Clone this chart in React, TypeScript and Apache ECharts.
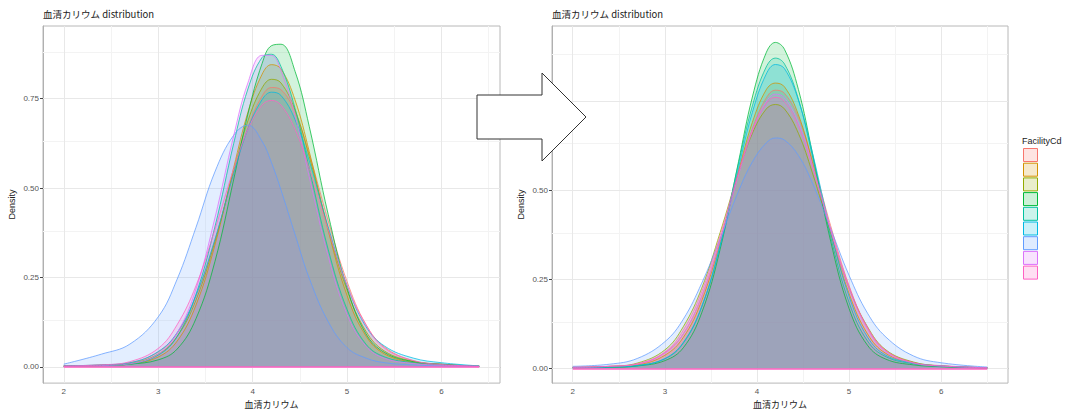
import React, { useEffect, useRef } from "react";
import * as echarts from "echarts";

// Facility groups (legend keys) and ggplot hue colours
const FACILITIES = ["F1", "F2", "F3", "F4", "F5", "F6", "F7", "F8", "F9"];
const COLORS = ["#F8766D", "#D39200", "#93AA00", "#00BA38", "#00C19F", "#00B9E3", "#619CFF", "#DB72FB", "#FF61C3"];

// x positions (血清カリウム) where densities were read
const X_LEFT = [2.0, 2.4, 2.7, 3.0, 3.2, 3.4, 3.6, 3.8, 3.95, 4.1, 4.2, 4.3, 4.45, 4.6, 4.8, 5.0, 5.2, 5.4, 5.7, 6.0, 6.4];
const X_RIGHT = [2.0, 2.4, 2.7, 3.0, 3.2, 3.4, 3.6, 3.8, 3.95, 4.1, 4.2, 4.3, 4.45, 4.6, 4.8, 5.0, 5.2, 5.4, 5.7, 6.0, 6.5];

// Left panel densities
const LEFT_D1 = [0.003, 0.006, 0.012, 0.042, 0.094, 0.197, 0.354, 0.541, 0.669, 0.757, 0.781, 0.775, 0.711, 0.595, 0.409, 0.239, 0.119, 0.055, 0.018, 0.008, 0.002];
const LEFT_D2 = [0.002, 0.004, 0.008, 0.028, 0.072, 0.173, 0.340, 0.558, 0.712, 0.818, 0.845, 0.833, 0.746, 0.602, 0.382, 0.200, 0.087, 0.036, 0.013, 0.006, 0.002];
const LEFT_D3 = [0.003, 0.005, 0.010, 0.036, 0.085, 0.187, 0.350, 0.549, 0.688, 0.780, 0.804, 0.794, 0.718, 0.588, 0.387, 0.215, 0.100, 0.044, 0.016, 0.007, 0.002];
const LEFT_D4 = [0.002, 0.004, 0.008, 0.020, 0.050, 0.135, 0.294, 0.525, 0.707, 0.848, 0.898, 0.902, 0.826, 0.672, 0.427, 0.221, 0.093, 0.040, 0.015, 0.008, 0.002];
const LEFT_D5 = [0.002, 0.004, 0.008, 0.033, 0.085, 0.203, 0.391, 0.625, 0.777, 0.865, 0.874, 0.840, 0.722, 0.555, 0.329, 0.161, 0.064, 0.028, 0.012, 0.006, 0.002];
const LEFT_D6 = [0.003, 0.006, 0.012, 0.043, 0.096, 0.200, 0.356, 0.541, 0.665, 0.747, 0.768, 0.759, 0.691, 0.576, 0.392, 0.228, 0.113, 0.058, 0.025, 0.012, 0.003];
const LEFT_D7 = [0.008, 0.036, 0.064, 0.140, 0.245, 0.390, 0.545, 0.648, 0.676, 0.631, 0.571, 0.495, 0.370, 0.248, 0.127, 0.054, 0.025, 0.012, 0.006, 0.003, 0.001];
const LEFT_D8 = [0.002, 0.004, 0.009, 0.036, 0.095, 0.218, 0.416, 0.647, 0.794, 0.871, 0.871, 0.829, 0.702, 0.531, 0.310, 0.147, 0.058, 0.024, 0.010, 0.005, 0.002];
const LEFT_D9 = [0.003, 0.006, 0.015, 0.052, 0.118, 0.227, 0.384, 0.554, 0.664, 0.732, 0.745, 0.732, 0.664, 0.554, 0.384, 0.227, 0.118, 0.052, 0.018, 0.007, 0.002];

// Right panel densities
const RIGHT_D1 = [0.003, 0.006, 0.012, 0.044, 0.097, 0.202, 0.360, 0.547, 0.672, 0.758, 0.780, 0.771, 0.703, 0.586, 0.400, 0.232, 0.114, 0.050, 0.017, 0.008, 0.002];
const RIGHT_D2 = [0.003, 0.005, 0.010, 0.037, 0.087, 0.190, 0.355, 0.553, 0.690, 0.781, 0.800, 0.789, 0.711, 0.580, 0.380, 0.210, 0.097, 0.042, 0.015, 0.007, 0.002];
const RIGHT_D3 = [0.003, 0.006, 0.015, 0.052, 0.117, 0.225, 0.381, 0.550, 0.659, 0.727, 0.740, 0.727, 0.659, 0.550, 0.381, 0.225, 0.117, 0.052, 0.018, 0.007, 0.002];
const RIGHT_D4 = [0.002, 0.003, 0.007, 0.022, 0.058, 0.156, 0.334, 0.580, 0.761, 0.885, 0.914, 0.894, 0.782, 0.606, 0.357, 0.168, 0.065, 0.026, 0.010, 0.005, 0.001];
const RIGHT_D5 = [0.002, 0.004, 0.008, 0.027, 0.071, 0.172, 0.345, 0.575, 0.736, 0.845, 0.870, 0.853, 0.755, 0.598, 0.369, 0.185, 0.077, 0.033, 0.013, 0.006, 0.002];
const RIGHT_D6 = [0.002, 0.004, 0.008, 0.028, 0.073, 0.174, 0.343, 0.563, 0.718, 0.825, 0.852, 0.840, 0.752, 0.607, 0.385, 0.202, 0.088, 0.037, 0.015, 0.007, 0.002];
const RIGHT_D7 = [0.006, 0.012, 0.028, 0.075, 0.138, 0.239, 0.364, 0.497, 0.579, 0.632, 0.646, 0.640, 0.597, 0.521, 0.392, 0.261, 0.155, 0.088, 0.035, 0.016, 0.004];
const RIGHT_D8 = [0.003, 0.006, 0.012, 0.043, 0.097, 0.202, 0.358, 0.543, 0.666, 0.747, 0.769, 0.758, 0.689, 0.572, 0.388, 0.224, 0.110, 0.046, 0.015, 0.007, 0.002];
const RIGHT_D9 = [0.003, 0.006, 0.013, 0.046, 0.107, 0.215, 0.372, 0.550, 0.667, 0.743, 0.760, 0.748, 0.680, 0.567, 0.389, 0.229, 0.115, 0.050, 0.016, 0.007, 0.002];

const LEFT_SET = [LEFT_D1, LEFT_D2, LEFT_D3, LEFT_D4, LEFT_D5, LEFT_D6, LEFT_D7, LEFT_D8, LEFT_D9];
const RIGHT_SET = [RIGHT_D1, RIGHT_D2, RIGHT_D3, RIGHT_D4, RIGHT_D5, RIGHT_D6, RIGHT_D7, RIGHT_D8, RIGHT_D9];

// Axis ticks and grid lines
const X_TICKS = [2, 3, 4, 5, 6];
const X_MINOR = [2.5, 3.5, 4.5, 5.5, 6.5];
const Y_TICKS = [0, 0.25, 0.5, 0.75];
const Y_MINOR = [0.125, 0.375, 0.625, 0.875];

const TITLE = "血清カリウム distribution";
const X_NAME = "血清カリウム";
const Y_NAME = "Density";
const LEGEND_TITLE = "FacilityCd";

const FONT = "'Liberation Sans', 'Noto Sans CJK JP', sans-serif";
const CJK = "'Noto Sans CJK JP', 'Liberation Sans', sans-serif";

function rgba(hex: string, a: number) {
  const r = parseInt(hex.slice(1, 3), 16);
  const g = parseInt(hex.slice(3, 5), 16);
  const b = parseInt(hex.slice(5, 7), 16);
  return `rgba(${r},${g},${b},${a})`;
}

const ALPHA = 0.25;

function panelSeries(xs: number[], set: number[][], idx: number) {
  const out: any[] = [];
  out.push({
    type: "line",
    name: "grid" + idx,
    xAxisIndex: idx,
    yAxisIndex: idx,
    data: [],
    silent: true,
    z: 1,
    markLine: {
      silent: true,
      symbol: ["none", "none"],
      z: 1,
      label: { show: false },
      data: [
        ...X_MINOR.map((v) => ({ xAxis: v, lineStyle: { color: "#f3f3f3", width: 1, type: "solid" } })),
        ...Y_MINOR.map((v) => ({ yAxis: v, lineStyle: { color: "#f3f3f3", width: 1, type: "solid" } })),
        ...X_TICKS.map((v) => ({ xAxis: v, lineStyle: { color: "#e8e8e8", width: 1, type: "solid" } })),
        ...Y_TICKS.map((v) => ({ yAxis: v, lineStyle: { color: "#e8e8e8", width: 1, type: "solid" } })),
      ],
    },
  });
  set.forEach((arr, i) => {
    const s: any = {
      type: "line",
      name: FACILITIES[i],
      xAxisIndex: idx,
      yAxisIndex: idx,
      data: xs.map((x, j) => [x, arr[j]]),
      smooth: 0.4,
      symbol: "none",
      showSymbol: false,
      z: 2,
      lineStyle: { color: COLORS[i], width: 1, opacity: 0.75 },
      itemStyle: { color: COLORS[i] },
      areaStyle: { color: rgba(COLORS[i], ALPHA) },
    };
    if (i === set.length - 1) {
      s.markLine = {
        silent: true,
        symbol: ["none", "none"],
        z: 3,
        label: { show: false },
        lineStyle: { color: COLORS[i], width: 1.5, type: "solid" },
        data: [[{ coord: [xs[0], 0] }, { coord: [xs[xs.length - 1], 0] }]],
      };
    }
    out.push(s);
  });
  return out;
}

function xAxisFor(idx: number, min: number, max: number) {
  return {
    type: "value",
    gridIndex: idx,
    min,
    max,
    name: X_NAME,
    nameLocation: "middle",
    nameGap: 12,
    nameTextStyle: { fontFamily: CJK, fontSize: 9, color: "#222" },
    axisLine: { show: true, lineStyle: { color: "#b0b0b0", width: 1 } },
    axisTick: { show: true, length: 3, customValues: X_TICKS, lineStyle: { color: "#444" } },
    axisLabel: {
      customValues: X_TICKS,
      margin: 4,
      fontSize: 8,
      color: "#555",
      fontFamily: FONT,
      formatter: (v: number) => String(v),
    },
    splitLine: { show: false },
  };
}

function yAxisFor(idx: number, min: number, max: number) {
  return {
    type: "value",
    gridIndex: idx,
    min,
    max,
    name: Y_NAME,
    nameLocation: "middle",
    nameGap: 27,
    nameTextStyle: { fontFamily: FONT, fontSize: 9, color: "#222" },
    axisLine: { show: true, lineStyle: { color: "#b0b0b0", width: 1 } },
    axisTick: { show: true, length: 3, customValues: Y_TICKS, lineStyle: { color: "#444" } },
    axisLabel: {
      customValues: Y_TICKS,
      margin: 4,
      fontSize: 8,
      color: "#555",
      fontFamily: FONT,
      formatter: (v: number) => v.toFixed(2),
    },
    splitLine: { show: false },
  };
}

export default function App() {
  const ref = useRef<HTMLDivElement>(null);
  useEffect(() => {
    if (!ref.current) return;
    const chart = echarts.init(ref.current, null, { renderer: "svg" });
    const titleStyle = { fontFamily: CJK, fontSize: 9.5, fontWeight: "normal", color: "#222" };
    const option: any = {
      animation: false,
      backgroundColor: "#ffffff",
      title: [
        { text: TITLE, left: 43, top: 9, padding: 0, textStyle: titleStyle },
        { text: TITLE, left: 552, top: 9, padding: 0, textStyle: titleStyle },
        { text: LEGEND_TITLE, left: 1022, top: 136, padding: 0, textStyle: { fontFamily: FONT, fontSize: 9, fontWeight: "normal", color: "#222" } },
      ],
      grid: [
        { left: 43, top: 26, width: 457, height: 363, show: true, borderColor: "#b8b8b8", borderWidth: 1, backgroundColor: "transparent" },
        { left: 552, top: 26, width: 456, height: 363, show: true, borderColor: "#b8b8b8", borderWidth: 1, backgroundColor: "transparent" },
      ],
      xAxis: [xAxisFor(0, 1.78, 6.62), xAxisFor(1, 1.775, 6.725)],
      yAxis: [yAxisFor(0, -0.045, 0.953), yAxisFor(1, -0.041, 0.96)],
      legend: {
        orient: "vertical",
        left: 1023,
        top: 148,
        padding: 0,
        itemWidth: 14,
        itemHeight: 13,
        itemGap: 0.7,
        icon: "rect",
        selectedMode: false,
        formatter: () => "",
        textStyle: { fontSize: 1, lineHeight: 1 },
        data: FACILITIES.map((n, i) => ({
          name: n,
          itemStyle: { color: rgba(COLORS[i], 0.2), borderColor: COLORS[i], borderWidth: 1 },
        })),
      },
      series: [...panelSeries(X_LEFT, LEFT_SET, 0), ...panelSeries(X_RIGHT, RIGHT_SET, 1)],
      graphic: [
        {
          type: "polygon",
          z: 100,
          shape: {
            points: [
              [477, 95],
              [542, 95],
              [542, 73],
              [586, 117],
              [542, 161],
              [542, 139],
              [477, 139],
            ],
          },
          style: { fill: "#ffffff", stroke: "#333", lineWidth: 1 },
        },
      ],
    };
    chart.setOption(option);
    return () => chart.dispose();
  }, []);
  return (
    <div
      ref={ref}
      style={{ position: "absolute", left: 0, top: 0, width: 1070, height: 414, background: "#fff" }}
    />
  );
}
